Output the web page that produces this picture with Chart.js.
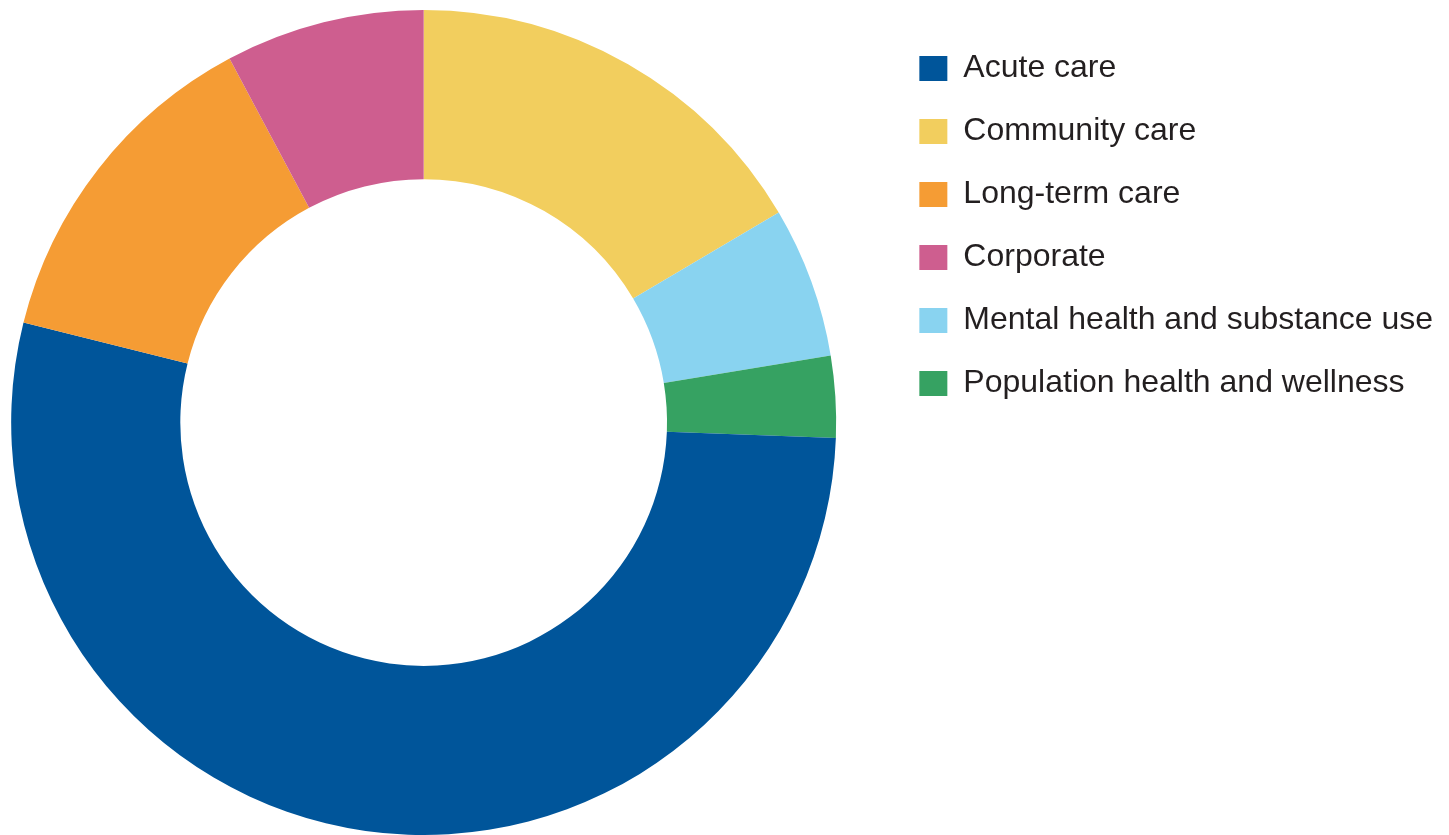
<!DOCTYPE html>
<html>
<head>
<meta charset="utf-8">
<script src="https://cdn.jsdelivr.net/npm/chart.js@4"></script>
<style>
  html, body { margin: 0; padding: 0; background: #ffffff; overflow: hidden; }
  /* canvas is shifted left a bit so the ring sits where it does in the reference */
  #wrap { width: 1490px; height: 835px; position: absolute; left: -41px; top: 0; }
</style>
</head>
<body>
<div id="wrap"><canvas id="budgetChart"></canvas></div>
<script>
// Slices in drawing order, clockwise from 12 o'clock
const categories = ['Community care', 'Mental health and substance use', 'Population health and wellness',
                    'Acute care', 'Long-term care', 'Corporate'];
const shares = [16.5, 5.9, 3.2, 53.3, 13.3, 7.8];
// Order used by the legend
const legendOrder = ['Acute care', 'Community care', 'Long-term care', 'Corporate',
                     'Mental health and substance use', 'Population health and wellness'];

const sliceColors = ['#f2ce5e', '#89d3f0', '#36a262', '#00559a', '#f59c34', '#ce5e8f'];

document.addEventListener('DOMContentLoaded', function() {
    const ctx = document.getElementById('budgetChart').getContext('2d');
    new Chart(ctx, {
        type: 'doughnut',
        data: {
            labels: categories,
            datasets: [{
                data: shares,
                backgroundColor: sliceColors,
                borderWidth: 0
            }]
        },
        options: {
            responsive: true,
            maintainAspectRatio: false,
            animation: false,
            cutout: '59%',
            layout: {
                padding: { left: 0, right: 6, top: 10, bottom: 0 }
            },
            plugins: {
                tooltip: { enabled: false },
                legend: {
                    position: 'right',
                    align: 'start',
                    // empty title only used to push the items down a little
                    title: {
                        display: true,
                        text: '',
                        font: { size: 1, lineHeight: 1 },
                        padding: { top: 0, bottom: 10.5 }
                    },
                    labels: {
                        boxWidth: 28,
                        boxHeight: 25,
                        padding: 31,
                        color: '#231f20',
                        font: { family: '"Liberation Sans", Arial, sans-serif', size: 32 },
                        sort: (a, b) => legendOrder.indexOf(a.text) - legendOrder.indexOf(b.text)
                    }
                }
            }
        }
    });
});
</script>
</body>
</html>
